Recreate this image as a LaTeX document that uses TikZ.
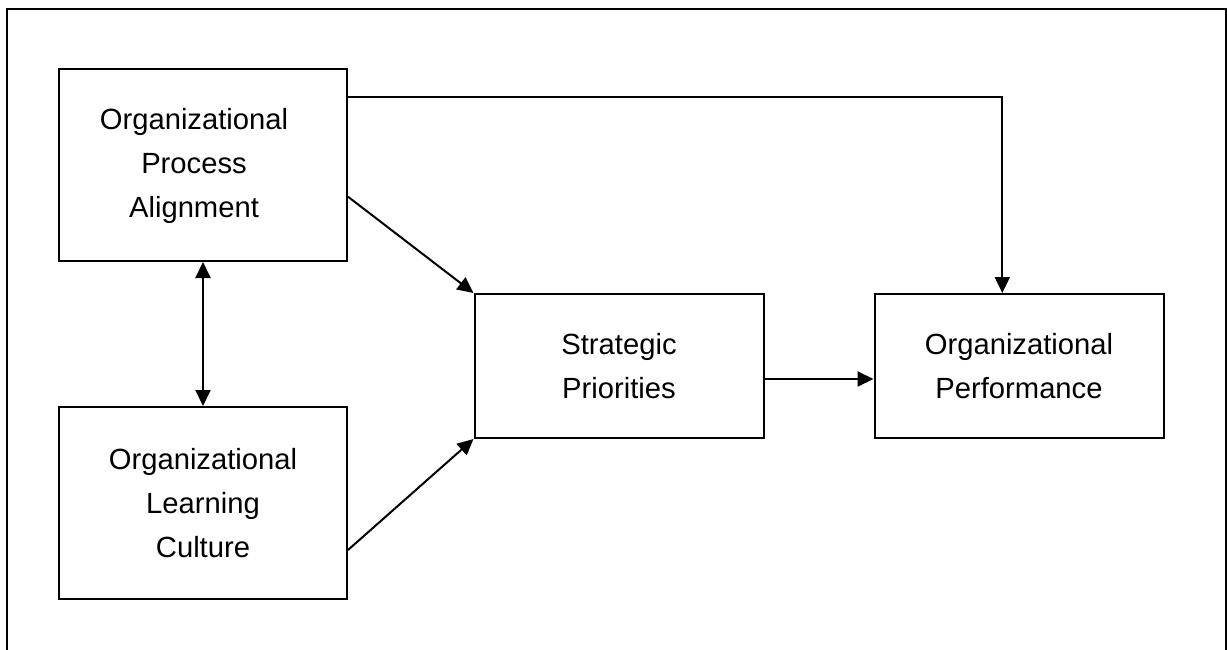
\documentclass[tikz,border=0pt]{standalone}
\usepackage{fontspec}
\setmainfont{Liberation Sans}
\usetikzlibrary{arrows.meta}
\tikzset{
  box/.style={draw, line width=2pt, minimum width=288pt, align=center,
    font=\fontsize{29.2}{44}\selectfont, inner sep=0pt},
  tip/.tip={Triangle[length=16pt,width=15pt]},
  arr/.style={line width=2pt, -tip},
  darr/.style={line width=2pt, tip-tip}
}
\begin{document}
\begin{tikzpicture}[x=1pt,y=-1pt]
\useasboundingbox (0,0) rectangle (1227,650);
\clip (0,0) rectangle (1227,650);
\draw[line width=2pt] (7,700) -- (7,9) -- (1226,9) -- (1226,700);
\node[box, minimum height=192pt] (OPA) at (203,165) {\begin{tabular}{@{}c@{\hspace{18pt}}}Organizational\\Process\\Alignment\end{tabular}};
\node[box, minimum height=192pt] (OLC) at (203,503) {Organizational\\Learning\\Culture};
\node[box, minimum height=144pt, minimum width=289pt] (SP) at (619,366) {Strategic\\Priorities};
\node[box, minimum height=144pt, minimum width=289pt] (OP) at (1019,366) {Organizational\\Performance};
\draw[arr] ([yshift=-28.7pt]OPA.north east) -| ([xshift=-16.7pt]OP.north);
\draw[arr] ([yshift=-31.7pt]OPA.east) -- (SP.north west);
\draw[arr] ([yshift=-47pt]OLC.east) -- (SP.south west);
\draw[arr] ([yshift=-13pt]SP.east) -- ([yshift=-13pt]OP.west);
\draw[darr] (OPA.south) -- (OLC.north);
\end{tikzpicture}
\end{document}
